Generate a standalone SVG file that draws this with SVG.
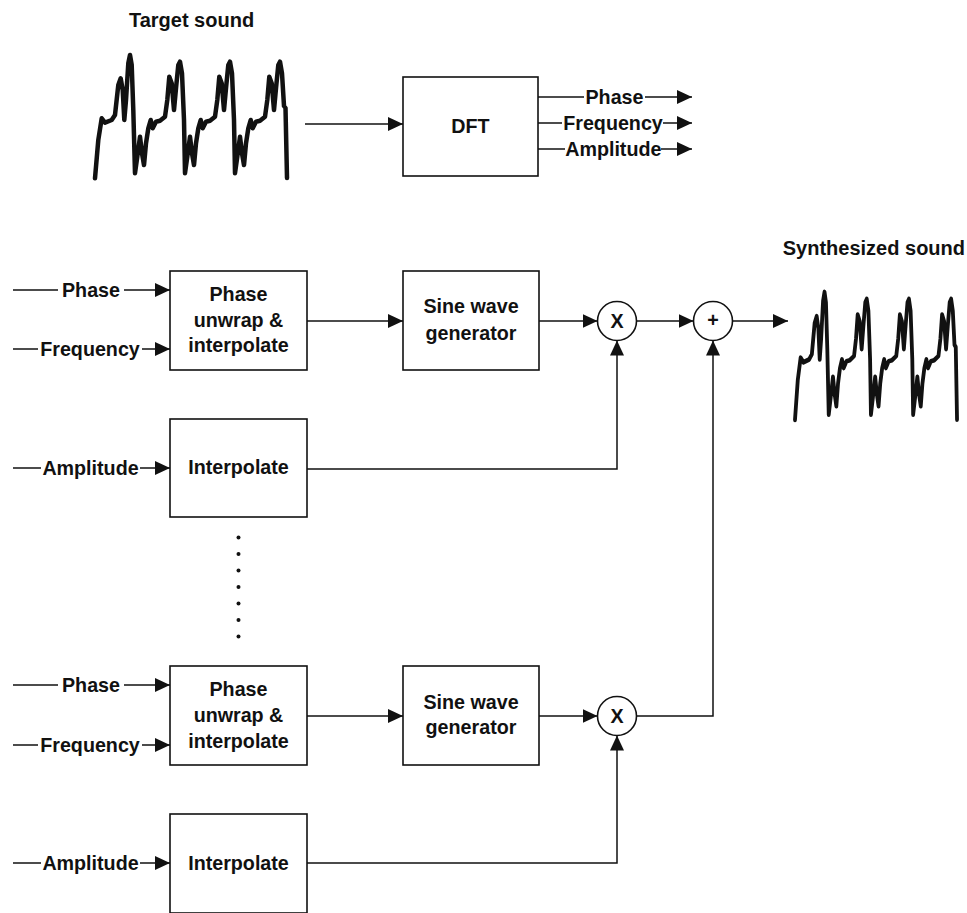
<svg xmlns="http://www.w3.org/2000/svg" xmlns:xlink="http://www.w3.org/1999/xlink" width="967" height="913" viewBox="0 0 967 913">
  <style>
    .box { fill: #fff; stroke: #111; stroke-width: 1.6; }
    .op { fill: #fff; stroke: #111; stroke-width: 1.6; }
    .lbl { font-family: "Liberation Sans", Arial, sans-serif; font-weight: bold; font-size: 19.7px; fill: #111; text-anchor: middle; }
    .title { font-family: "Liberation Sans", Arial, sans-serif; font-weight: bold; font-size: 20px; fill: #111; }
    .wire { fill: none; stroke: #111; stroke-width: 1.5; }
    .arrow { fill: none; stroke: #111; stroke-width: 1.5; marker-end: url(#head); }
    .wave { fill: none; stroke: #111; stroke-width: 4.5; stroke-linejoin: round; stroke-linecap: round; }
  </style>
  <defs>
    <marker id="head" viewBox="0 0 15 14" refX="15" refY="7" markerWidth="15" markerHeight="14" markerUnits="userSpaceOnUse" orient="auto">
      <path d="M0,0 L15,7 L0,14 Z" fill="#111"/>
    </marker>
    <!-- four periods of a periodic waveform -->
    <polyline id="wave" class="wave" points="95,178.3 98.3,140 101.7,118.3 105,122.7 111.7,120 115,115 118.3,85 120.7,78.3 122.7,90 124.3,120 126,100 128.3,63.3 130,55 131.7,65 133.3,110 135,173.3 137.3,156.7 140,136.7 142,153.3 144,165 146,143.3 148.3,128.3 150.7,120 152.7,128.3 156,121.7 160,120.7 165,116.7 167.3,100 169.3,76.7 171.7,83.3 174,110 176,88.3 178.3,65 180,61.7 182,73.3 184,120 185,173.3 187.3,156.7 190,136.7 192,153.3 194,165 196,143.3 198.3,128.3 200.7,120 202.7,128.3 206,121.7 210,120.7 215,116.7 217.3,100 219.3,76.7 221.7,83.3 224,110 226,88.3 228.3,65 230,61.7 232,73.3 234,120 235,173.3 237.3,156.7 240,136.7 242,153.3 244,165 246,143.3 248.3,128.3 250.7,120 252.7,128.3 256,121.7 260,120.7 265,116.7 267.3,100 269.3,76.7 271.7,83.3 274,110 276,88.3 278.3,65 280,61.7 282,73.3 284,106 285.5,108 287,178"/>
  </defs>
  <rect width="967" height="913" fill="#fff"/>

  <!-- input signal -->
  <g id="target">
    <text class="title" x="191.5" y="27" text-anchor="middle">Target sound</text>
    <use xlink:href="#wave"/>
  </g>

  <!-- analysis -->
  <g id="dft">
    <rect class="box" x="403" y="77" width="135" height="99"/>
    <text class="lbl" x="470.5" y="133">DFT</text>
  </g>
  <g id="dft-labels">
    <text class="lbl" x="614.5" y="103.5">Phase</text>
    <text class="lbl" x="613" y="129.5">Frequency</text>
    <text class="lbl" x="613.3" y="155.5">Amplitude</text>
  </g>

  <!-- upper partial -->
  <g id="unwrap1">
    <rect class="box" x="170" y="271" width="137" height="99"/>
    <text class="lbl" x="238.5" y="301">Phase</text>
    <text class="lbl" x="238.5" y="327">unwrap &amp;</text>
    <text class="lbl" x="238.5" y="352">interpolate</text>
  </g>
  <g id="sine1">
    <rect class="box" x="403" y="271" width="136" height="99"/>
    <text class="lbl" x="471" y="313">Sine wave</text>
    <text class="lbl" x="471" y="340">generator</text>
  </g>
  <g id="interp1">
    <rect class="box" x="170" y="419" width="137" height="98"/>
    <text class="lbl" x="238.5" y="474">Interpolate</text>
  </g>
  <g id="mul1">
    <circle class="op" cx="617" cy="321" r="19.5"/>
    <text class="lbl" x="617" y="328">X</text>
  </g>
  <g id="sum">
    <circle class="op" cx="713" cy="321" r="19.5"/>
    <text class="lbl" x="713" y="327" font-size="17">+</text>
  </g>

  <!-- ellipsis between partials -->
  <g id="dots" fill="#111">
    <circle cx="238.5" cy="537.5" r="2"/>
    <circle cx="238.5" cy="554" r="2"/>
    <circle cx="238.5" cy="570.5" r="2"/>
    <circle cx="238.5" cy="587" r="2"/>
    <circle cx="238.5" cy="603.5" r="2"/>
    <circle cx="238.5" cy="620" r="2"/>
    <circle cx="238.5" cy="636.5" r="2"/>
  </g>

  <!-- lower partial -->
  <g id="unwrap2">
    <rect class="box" x="170" y="666" width="137" height="99"/>
    <text class="lbl" x="238.5" y="695.5">Phase</text>
    <text class="lbl" x="238.5" y="722">unwrap &amp;</text>
    <text class="lbl" x="238.5" y="748">interpolate</text>
  </g>
  <g id="sine2">
    <rect class="box" x="403" y="666" width="136" height="99"/>
    <text class="lbl" x="471" y="708.5">Sine wave</text>
    <text class="lbl" x="471" y="734">generator</text>
  </g>
  <g id="interp2">
    <rect class="box" x="170" y="814" width="137" height="99"/>
    <text class="lbl" x="238.5" y="869.5">Interpolate</text>
  </g>
  <g id="mul2">
    <circle class="op" cx="617" cy="716" r="19.5"/>
    <text class="lbl" x="617" y="723">X</text>
  </g>

  <!-- input labels -->
  <g id="input-labels">
    <text class="lbl" x="91" y="296.5">Phase</text>
    <text class="lbl" x="90" y="355.5">Frequency</text>
    <text class="lbl" x="90.5" y="474.5">Amplitude</text>
    <text class="lbl" x="91" y="691.5">Phase</text>
    <text class="lbl" x="90" y="751.5">Frequency</text>
    <text class="lbl" x="90.5" y="869.5">Amplitude</text>
  </g>

  <!-- output signal -->
  <g id="synth">
    <text class="title" x="965" y="255" text-anchor="end">Synthesized sound</text>
    <use xlink:href="#wave" transform="translate(714.8,234.9) scale(0.844,1.038)"/>
  </g>

  <g id="connectors">
    <line class="arrow" x1="305" y1="124" x2="403" y2="124"/>
    <line class="wire" x1="538" y1="97" x2="584" y2="97"/>
    <line class="arrow" x1="645" y1="97" x2="692" y2="97"/>
    <line class="wire" x1="538" y1="123" x2="562" y2="123"/>
    <line class="arrow" x1="663" y1="123" x2="692" y2="123"/>
    <line class="wire" x1="538" y1="149" x2="565" y2="149"/>
    <line class="arrow" x1="661" y1="149" x2="692" y2="149"/>

    <line class="wire" x1="13" y1="290" x2="58" y2="290"/>
    <line class="arrow" x1="124" y1="290" x2="170" y2="290"/>
    <line class="wire" x1="13" y1="349" x2="38" y2="349"/>
    <line class="arrow" x1="142" y1="349" x2="170" y2="349"/>
    <line class="wire" x1="13" y1="468" x2="41" y2="468"/>
    <line class="arrow" x1="140" y1="468" x2="170" y2="468"/>
    <line class="arrow" x1="307" y1="321" x2="403" y2="321"/>
    <line class="arrow" x1="539" y1="321" x2="597.5" y2="321"/>
    <line class="arrow" x1="636.5" y1="321" x2="693.5" y2="321"/>
    <line class="arrow" x1="732.5" y1="321" x2="788" y2="321"/>
    <polyline class="arrow" points="307,469 617,469 617,340.5"/>

    <line class="wire" x1="13" y1="685" x2="58" y2="685"/>
    <line class="arrow" x1="124" y1="685" x2="170" y2="685"/>
    <line class="wire" x1="13" y1="745" x2="38" y2="745"/>
    <line class="arrow" x1="142" y1="745" x2="170" y2="745"/>
    <line class="wire" x1="13" y1="863" x2="41" y2="863"/>
    <line class="arrow" x1="140" y1="863" x2="170" y2="863"/>
    <line class="arrow" x1="307" y1="716" x2="403" y2="716"/>
    <line class="arrow" x1="539" y1="716" x2="597.5" y2="716"/>
    <polyline class="arrow" points="636.5,716 713,716 713,340.5"/>
    <polyline class="arrow" points="307,863 617,863 617,735.5"/>
  </g>
</svg>
